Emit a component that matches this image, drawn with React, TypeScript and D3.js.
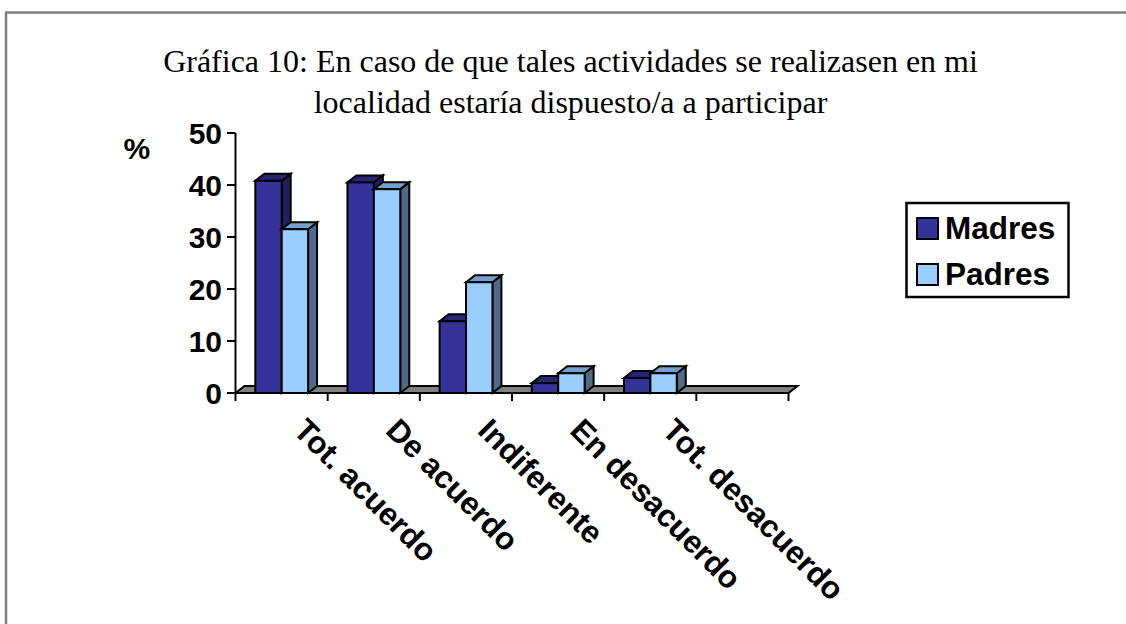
import React from "react";
import * as d3 from "d3";

const categories = ["Tot. acuerdo", "De acuerdo", "Indiferente", "En desacuerdo", "Tot. desacuerdo", ""];
const madres = [40.8, 40.5, 13.8, 1.9, 2.9, null];
const padres = [31.5, 39.2, 21.3, 3.8, 3.8, null];
const yTicks = [0, 10, 20, 30, 40, 50];
const titleLines = [
  "Gráfica 10: En caso de que tales actividades se realizasen en mi",
  "localidad estaría dispuesto/a a participar",
];
const seriesNames = ["Madres", "Padres"];
const seriesColors = [
  { front: "#333399", top: "#262673", side: "#20205f" },
  { front: "#99ccff", top: "#73a0cc", side: "#4f6b88" },
];

const SANS = "'Liberation Sans', Arial, sans-serif";
const SERIF = "'Liberation Serif', 'Times New Roman', serif";
const DX = 9;
const DY = 7;
const FS = 31.5;

export default function App() {
  const y = d3.scaleLinear().domain([0, 50]).range([393, 133]);
  const x = d3.scaleBand<number>().domain(d3.range(categories.length)).range([235.5, 788.5]);
  const barW = 26.4;
  const barOff = 19.8;

  const box = (x0: number, x1: number, top: number, bottom: number, c: any, key: string) => (
    <g key={key} stroke="#000" strokeWidth={2} strokeLinejoin="miter">
      <path d={`M${x1},${bottom}L${x1 + DX},${bottom - DY}L${x1 + DX},${top - DY}L${x1},${top}Z`} fill={c.side} />
      <path d={`M${x0},${top}L${x0 + DX},${top - DY}L${x1 + DX},${top - DY}L${x1},${top}Z`} fill={c.top} />
      <rect x={x0} y={top} width={x1 - x0} height={bottom - top} fill={c.front} />
    </g>
  );

  return (
    <svg width={1126} height={624} style={{ position: "absolute", left: 0, top: 0, background: "#fff" }}>
      <path d="M6,624V12.5H1126" fill="none" stroke="#808080" strokeWidth={2.5} />
      {titleLines.map((t, i) => (
        <text key={i} x={570.5} y={[72, 113][i]} textAnchor="middle" fontFamily={SERIF} fontSize={32} fill="#000">{t}</text>
      ))}
      <path
        d={`M${x.range()[0]},${y(0)}L${x.range()[0] + DX},${y(0) - DY}L${x.range()[1] + DX},${y(0) - DY}L${x.range()[1]},${y(0)}Z`}
        fill="#808080" stroke="#000" strokeWidth={2}
      />
      <g stroke="#000" strokeWidth={2}>
        <line x1={235.5} x2={235.5} y1={y(50)} y2={y(0)} />
        <line x1={235.5} x2={788.5} y1={y(0)} y2={y(0)} />
        {yTicks.map((t) => <line key={t} x1={227} x2={235.5} y1={y(t)} y2={y(t)} />)}
        {d3.range(categories.length + 1).map((i) => {
          const px = 235.5 + i * x.step();
          return <line key={i} x1={px} x2={px} y1={y(0)} y2={y(0) + 8} />;
        })}
      </g>
      {categories.map((_, i) => {
        const bx = x(i)! + barOff;
        const out: React.ReactNode[] = [];
        const m = madres[i];
        const p = padres[i];
        if (m != null) out.push(box(bx, bx + barW, y(m), y(0), seriesColors[0], `m${i}`));
        if (p != null) out.push(box(bx + barW, bx + 2 * barW, y(p), y(0), seriesColors[1], `p${i}`));
        return <g key={i}>{out}</g>;
      })}
      {yTicks.map((t) => (
        <text key={t} x={222} y={y(t) + 11} textAnchor="end" fontFamily={SANS} fontWeight="bold" fontSize={30} fill="#000">{t}</text>
      ))}
      <text x={123.5} y={159} fontFamily={SANS} fontWeight="bold" fontSize={30} fill="#000">%</text>
      {categories.map((c, i) => c && (
        <text key={i} transform={`translate(${x(i)! + 56.5},${432}) rotate(45)`} fontFamily={SANS} fontWeight="bold" fontSize={FS} fill="#000">{c}</text>
      ))}
      <rect x={906.5} y={203} width={162} height={94} fill="#fff" stroke="#000" strokeWidth={2.5} />
      {seriesNames.map((s, i) => (
        <g key={s}>
          <rect x={917} y={[218, 264][i]} width={21} height={21} fill={seriesColors[i].front} stroke="#000" strokeWidth={2} />
          <text x={945} y={[239, 285][i]} fontFamily={SANS} fontWeight="bold" fontSize={FS} fill="#000">{s}</text>
        </g>
      ))}
    </svg>
  );
}
